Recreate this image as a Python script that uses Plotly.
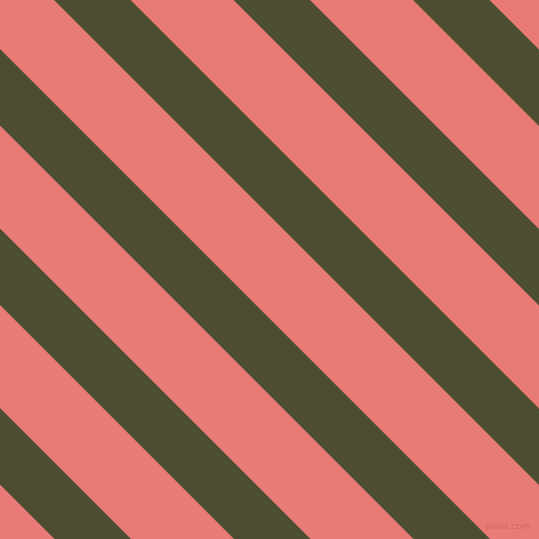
import plotly.graph_objects as go

# stripe offsets measured along the top edge (x - y, in pixels), and band width
stripe_offsets = [-664, -484.5, -305, -125.5, 54, 233.5, 413]
stripe_width = 76.5
canvas = 539

pink = "#E97B76"
olive = "#4D4E31"

fig = go.Figure()

for c in stripe_offsets:
    # a band between the lines x - y = c and x - y = c + width
    xs = [c - 100, c + 700, c + stripe_width + 700, c + stripe_width - 100, c - 100]
    ys = [-100, 700, 700, -100, -100]
    fig.add_trace(go.Scatter(
        x=xs, y=ys, mode="lines", fill="toself",
        fillcolor=olive, line=dict(width=0, color=olive),
        hoverinfo="skip", showlegend=False,
    ))

fig.add_annotation(
    text="pixlis.com", x=532, y=533, xref="x", yref="y",
    xanchor="right", yanchor="bottom", showarrow=False,
    font=dict(family="DejaVu Sans", size=9, color="rgba(200,100,100,0.8)"),
)

fig.update_xaxes(range=[0, canvas], visible=False, fixedrange=True)
fig.update_yaxes(range=[canvas, 0], visible=False, fixedrange=True)
fig.update_layout(
    width=canvas, height=canvas,
    margin=dict(l=0, r=0, t=0, b=0),
    paper_bgcolor=pink, plot_bgcolor=pink,
    showlegend=False,
)

# drop the page's default body margin so the figure fills the window
fig.write_html(
    "out.html",
    config={"displayModeBar": False},
    post_script="document.body.style.margin='0';document.body.style.overflow='hidden';",
)
